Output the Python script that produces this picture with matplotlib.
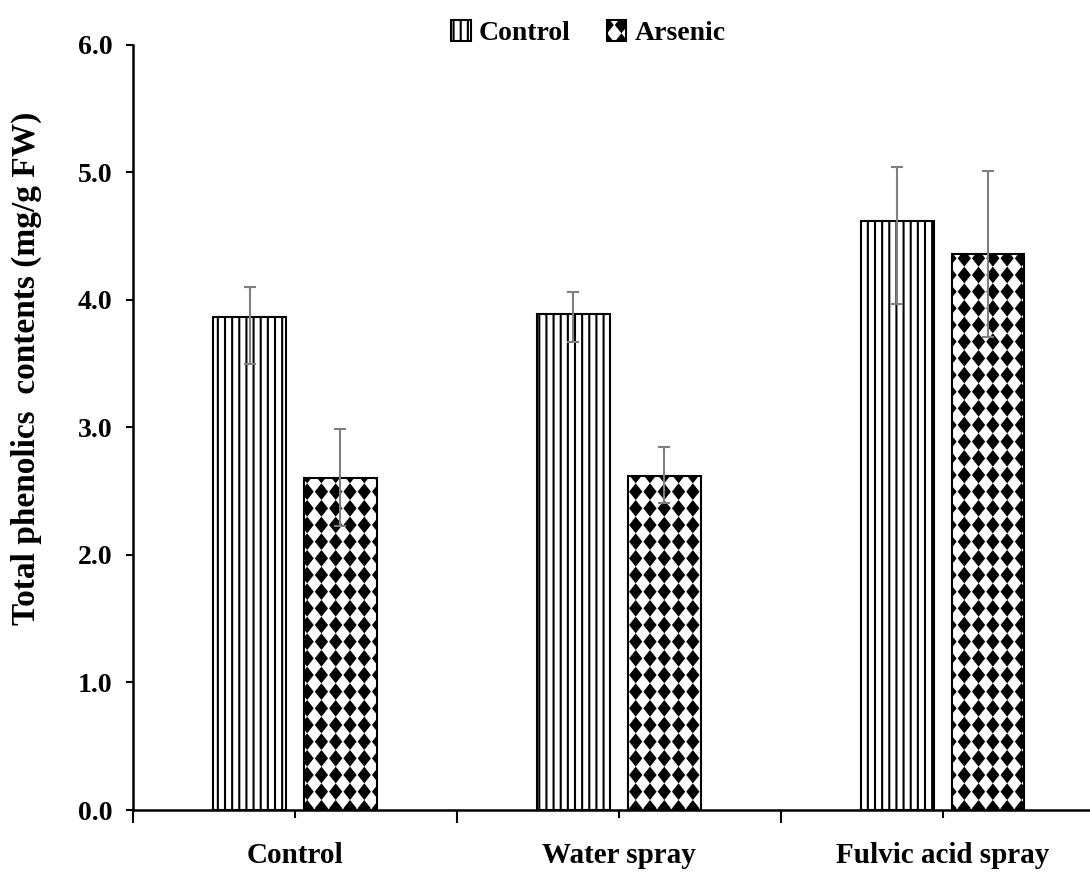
import warnings
import numpy as np
import matplotlib
matplotlib.use('Agg')
import matplotlib.pyplot as plt
from matplotlib import hatch as mhatch
from matplotlib.path import Path

warnings.filterwarnings('ignore')

categories = ['Control', 'Water spray', 'Fulvic acid spray']
series_names = ['Control', 'Arsenic']

control_mean = [3.87, 3.89, 4.62]
control_err_lo = [0.37, 0.22, 0.65]
control_err_hi = [0.23, 0.17, 0.42]

arsenic_mean = [2.60, 2.62, 4.36]
arsenic_err_lo = [0.37, 0.21, 0.65]
arsenic_err_hi = [0.39, 0.23, 0.65]

y_ticks = [0, 1, 2, 3, 4, 5, 6]


# custom hatches: 'v' = dense vertical lines, 'd' = grid of black diamonds
class CustomHatch(mhatch.HatchPatternBase):
    def __init__(self, hatch, density):
        self.lines = 14 if 'v' in hatch else 0
        self.diamonds = 'd' in hatch
        self.nx, self.ny = 7, 6
        self.num_vertices = self.lines * 2
        if self.diamonds:
            self.num_vertices += self.nx * self.ny * 5

    def set_vertices_and_codes(self, vertices, codes):
        k = 0
        for i in range(self.lines):
            x = (i + 0.5) / self.lines
            vertices[k:k + 2] = [(x, 0.0), (x, 1.0)]
            codes[k:k + 2] = [Path.MOVETO, Path.LINETO]
            k += 2
        if self.diamonds:
            hx, hy = 0.37 / self.nx, 0.40 / self.ny
            for i in range(self.nx):
                for j in range(self.ny):
                    cx, cy = (i + 0.5) / self.nx, (j + 0.5) / self.ny
                    vertices[k:k + 5] = [(cx, cy - hy), (cx + hx, cy), (cx, cy + hy),
                                         (cx - hx, cy), (cx, cy - hy)]
                    codes[k:k + 5] = [Path.MOVETO, Path.LINETO, Path.LINETO,
                                      Path.LINETO, Path.CLOSEPOLY]
                    k += 5


mhatch._hatch_types.append(CustomHatch)

plt.rcParams['font.family'] = ['Liberation Serif', 'DejaVu Serif']
plt.rcParams['font.weight'] = 'bold'
plt.rcParams['hatch.linewidth'] = 1.5

fig = plt.figure(figsize=(10.9, 8.72), dpi=100)
ax = fig.add_axes([0.122, 0.0711, 0.878, 0.8773])

x = np.arange(len(categories))
w = 0.225
off = 0.14

ax.bar(x - off, control_mean, w, color='white', edgecolor='black', linewidth=1.5,
       hatch='v', label=series_names[0], zorder=2)
ax.bar(x + off, arsenic_mean, w, color='white', edgecolor='black', linewidth=1.5,
       hatch='d', label=series_names[1], zorder=2)

ax.errorbar(x - off, control_mean, yerr=[control_err_lo, control_err_hi], fmt='none',
            ecolor='#7f7f7f', elinewidth=1.5, capsize=4.5, capthick=1.5, zorder=3)
ax.errorbar(x + off, arsenic_mean, yerr=[arsenic_err_lo, arsenic_err_hi], fmt='none',
            ecolor='#7f7f7f', elinewidth=1.5, capsize=4.5, capthick=1.5, zorder=3)

ax.set_xlim(-0.5, 2.455)
ax.set_ylim(0, 6)
ax.set_yticks(y_ticks)
ax.set_yticklabels(['%.1f' % v for v in y_ticks])
ax.set_xticks(x)
ax.set_xticklabels(categories)
ax.set_xticks([-0.5, 0.5, 1.5], minor=True)

for s in ['top', 'right']:
    ax.spines[s].set_visible(False)
for s in ['left', 'bottom']:
    ax.spines[s].set_linewidth(1.8)

ax.tick_params(axis='y', direction='out', length=5, width=1.5, pad=10, labelsize=20)
ax.tick_params(axis='x', which='major', direction='out', length=6, width=1.5, pad=17,
               labelsize=21)
ax.tick_params(axis='x', which='minor', direction='out', length=9, width=1.5)

ax.set_ylabel('Total phenolics  contents (mg/g FW)', fontsize=24, fontweight='bold',
              va='center')
ax.yaxis.set_label_coords(-0.111, 0.578)

fig.legend(loc='center', bbox_to_anchor=(0.54, 0.962), ncol=2, frameon=False,
           handlelength=0.7, handleheight=0.8, handletextpad=0.3, columnspacing=1.3,
           prop={'size': 20, 'weight': 'bold'})

fig.savefig('out.png', dpi=100)
